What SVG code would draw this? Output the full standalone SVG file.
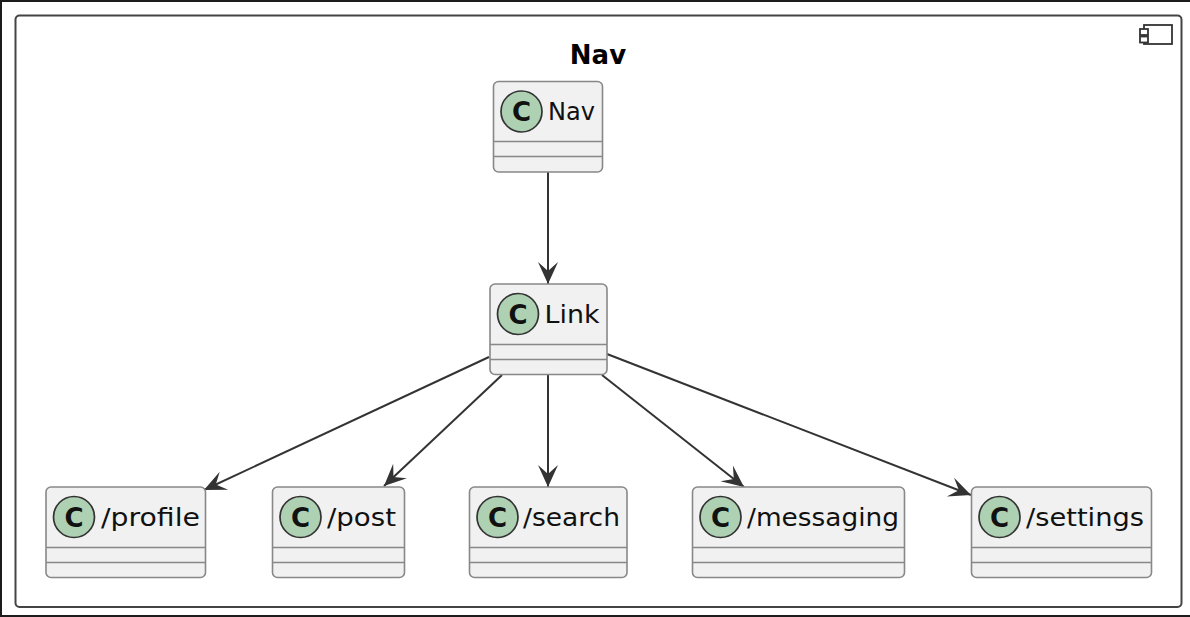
<svg xmlns="http://www.w3.org/2000/svg" width="1190" height="617" viewBox="0 0 1190 617">
<style>
.box{fill:#f1f1f1;stroke:#888;stroke-width:1.6}
.div{stroke:#888;stroke-width:1.6}
.spot{fill:#add1b2;stroke:#333;stroke-width:1.7}
.c{font:bold 26px "DejaVu Sans",sans-serif;fill:#111;text-anchor:middle}
.t{font:25px "DejaVu Sans",sans-serif;fill:#111}
.edge{fill:none;stroke:#333;stroke-width:2;marker-end:url(#a)}
</style>
<defs>
<marker id="a" markerUnits="userSpaceOnUse" markerWidth="26" markerHeight="26" refX="22" refY="13" orient="auto" overflow="visible">
<path d="M22 13 L0 3 L9 13 L0 23 Z" fill="#333"/>
</marker>
</defs>
<rect width="1190" height="617" fill="#fff"/>
<path d="M1 617V1H1190M0 616H1190" fill="none" stroke="#1c1c1c" stroke-width="2"/>
<g id="frame">
<rect x="15.500" y="15.500" width="1166" height="591.500" rx="4" fill="none" stroke="#444" stroke-width="2"/>
<text x="598" y="64" text-anchor="middle" style="font:bold 26px 'DejaVu Sans',sans-serif" fill="#000">Nav</text>
<rect x="1144" y="25" width="28" height="19" fill="none" stroke="#333" stroke-width="1.800"/>
<rect x="1140" y="29" width="8" height="6" fill="#fff" stroke="#333" stroke-width="1.800"/>
<rect x="1140" y="36.500" width="8" height="6" fill="#fff" stroke="#333" stroke-width="1.800"/>
</g>
<g id="connectors">
<path class="edge" d="M548 172V284"/>
<path class="edge" d="M489 357L204 490"/>
<path class="edge" d="M502 375L384 486"/>
<path class="edge" d="M548 375V487"/>
<path class="edge" d="M602 375L744 487"/>
<path class="edge" d="M607 354L971 495"/>
</g>
<g id="node-nav"><rect class="box" x="493.500" y="81.500" width="109" height="90.500" rx="5"/><path class="div" d="M493.500 141.500H602.500M493.500 156.500H602.500"/><circle class="spot" cx="521.500" cy="111.500" r="20.500"/><text class="c" x="521.500" y="121">C</text><text class="t" x="548" y="120" textLength="47" lengthAdjust="spacingAndGlyphs">Nav</text></g>
<g id="node-link"><rect class="box" x="490" y="284" width="117" height="90.500" rx="5"/><path class="div" d="M490 344.500H607M490 359.500H607"/><circle class="spot" cx="518" cy="314" r="20.500"/><text class="c" x="518" y="323.500">C</text><text class="t" x="544.500" y="322.500" textLength="55" lengthAdjust="spacingAndGlyphs">Link</text></g>
<g id="node-profile"><rect class="box" x="46" y="487" width="159.500" height="90.500" rx="5"/><path class="div" d="M46 547.500H205.500M46 562.500H205.500"/><circle class="spot" cx="74" cy="517" r="20.500"/><text class="c" x="74" y="526.500">C</text><text class="t" x="101" y="525.500" textLength="99" lengthAdjust="spacingAndGlyphs">/profile</text></g>
<g id="node-post"><rect class="box" x="272.500" y="487" width="132" height="90.500" rx="5"/><path class="div" d="M272.500 547.500H404.500M272.500 562.500H404.500"/><circle class="spot" cx="300.500" cy="517" r="20.500"/><text class="c" x="300.500" y="526.500">C</text><text class="t" x="327" y="525.500" textLength="69" lengthAdjust="spacingAndGlyphs">/post</text></g>
<g id="node-search"><rect class="box" x="469.500" y="487" width="157.500" height="90.500" rx="5"/><path class="div" d="M469.500 547.500H627M469.500 562.500H627"/><circle class="spot" cx="497.500" cy="517" r="20.500"/><text class="c" x="497.500" y="526.500">C</text><text class="t" x="523" y="525.500" textLength="97" lengthAdjust="spacingAndGlyphs">/search</text></g>
<g id="node-messaging"><rect class="box" x="692.500" y="487" width="212" height="90.500" rx="5"/><path class="div" d="M692.500 547.500H904.500M692.500 562.500H904.500"/><circle class="spot" cx="720.500" cy="517" r="20.500"/><text class="c" x="720.500" y="526.500">C</text><text class="t" x="747" y="525.500" textLength="152" lengthAdjust="spacingAndGlyphs">/messaging</text></g>
<g id="node-settings"><rect class="box" x="971.500" y="487" width="180" height="90.500" rx="5"/><path class="div" d="M971.500 547.500H1151.500M971.500 562.500H1151.500"/><circle class="spot" cx="999.500" cy="517" r="20.500"/><text class="c" x="999.500" y="526.500">C</text><text class="t" x="1026" y="525.500" textLength="118" lengthAdjust="spacingAndGlyphs">/settings</text></g>
</svg>
